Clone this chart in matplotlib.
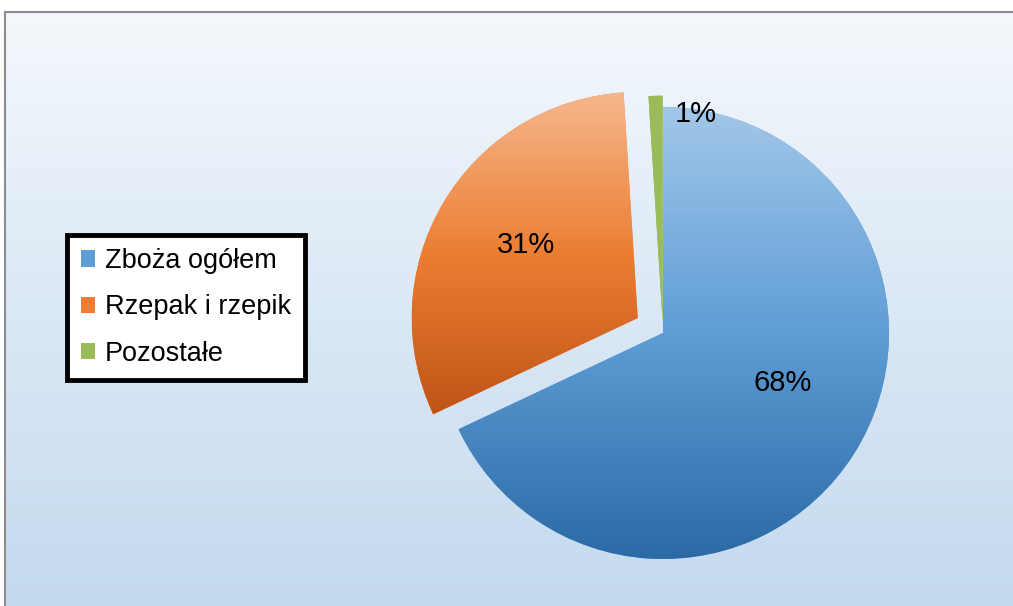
import numpy as np
import matplotlib
matplotlib.use("Agg")
import matplotlib.pyplot as plt
from matplotlib.colors import LinearSegmentedColormap

plt.rcParams['font.family'] = ['Liberation Sans', 'DejaVu Sans']

# dane
kategorie = ['Zboża ogółem', 'Rzepak i rzepik', 'Pozostałe']
udzialy = [68, 31, 1]
wysuniecie = [0.0, 0.13, 0.05]
kolory_jasne = ['#a2c7e9', '#f6b78c', '#9bbb59']
kolory_srednie = ['#5f9dd6', '#ec7e33', '#9bbb59']
kolory_ciemne = ['#2c6aa6', '#bf5416', '#9bbb59']
# przesunięcie etykiet (kąt w stopniach, odległość)
etyk_kat = [10, -2.5, -11]
etyk_odl = [0.575, 0.59, 0.93]

W, H = 1013, 606
fig = plt.figure(figsize=(W / 100, H / 100), dpi=100)
fig.patch.set_facecolor('white')

# tło z gradientem
bg = fig.add_axes([5 / W, 0, 1 - 5 / W, 1 - 12 / H])
grad = np.linspace(0, 1, 256).reshape(-1, 1)
cm_bg = LinearSegmentedColormap.from_list('bg', ['#f4f8fc', '#dbe8f5', '#c4daef'])
bg.imshow(grad, cmap=cm_bg, aspect='auto', extent=[0, 1, 0, 1], origin='upper')
bg.set_xticks([])
bg.set_yticks([])
for s in ['right', 'bottom']:
    bg.spines[s].set_visible(False)
for s in ['left', 'top']:
    bg.spines[s].set_color('#8c8c8c')
    bg.spines[s].set_linewidth(1.5)

# wykres kołowy
r_px = 226
cx, cy = 663, 333
lim = 1.2
size = 2 * lim * r_px
ax = fig.add_axes([(cx - size / 2) / W, (H - cy - size / 2) / H, size / W, size / H])
ax.set_facecolor('none')

wedges, texts, autotexts = ax.pie(
    udzialy, explode=wysuniecie, colors=kolory_srednie, startangle=90,
    counterclock=False, autopct='%.0f%%', pctdistance=0.6,
    wedgeprops=dict(linewidth=0),
    textprops=dict(fontsize=21, color='black'))
ax.set_xlim(-lim, lim)
ax.set_ylim(-lim, lim)

# gradient w każdym wycinku
for w, c1, c2, c3 in zip(wedges, kolory_jasne, kolory_srednie, kolory_ciemne):
    verts = ax.transData.inverted().transform(w.get_verts())
    x0, y0 = verts.min(axis=0)
    x1, y1 = verts.max(axis=0)
    cm = LinearSegmentedColormap.from_list('w', [c1, c2, c3])
    im = ax.imshow(grad, cmap=cm, extent=[x0, x1, y0, y1], origin='upper',
                   aspect='auto', zorder=1.5)
    im.set_clip_path(w)
ax.set_xlim(-lim, lim)
ax.set_ylim(-lim, lim)
ax.set_aspect('equal')
ax.axis('off')

# pozycje etykiet
for w, t, dk, d in zip(wedges, autotexts, etyk_kat, etyk_odl):
    th = np.deg2rad((w.theta1 + w.theta2) / 2 + dk)
    x, y = w.center
    t.set_position((x + d * np.cos(th), y + d * np.sin(th)))
    t.set_zorder(3)

leg = fig.legend(wedges, kategorie, loc='center left',
                 bbox_to_anchor=(67 / W, 1 - 307.5 / H), fontsize=19.5,
                 frameon=True, fancybox=False, edgecolor='black',
                 facecolor='white', framealpha=1, handlelength=0.55,
                 handleheight=0.55, handletextpad=0.35, labelspacing=0.75,
                 borderpad=0.5, borderaxespad=0)
leg.get_frame().set_linewidth(3.5)

fig.savefig('out.png', dpi=100, facecolor=fig.get_facecolor())
